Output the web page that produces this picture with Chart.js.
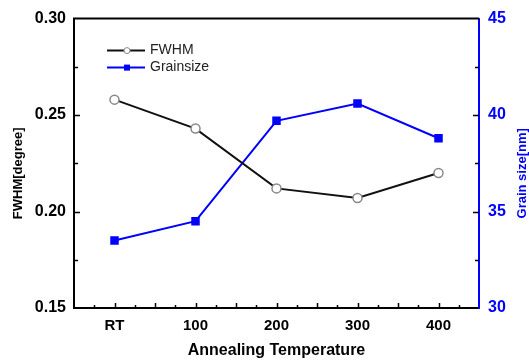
<!DOCTYPE html>
<html>
<head>
<meta charset="utf-8">
<script src="https://cdn.jsdelivr.net/npm/chart.js@4"></script>
<style>
  html, body { margin: 0; padding: 0; background: #fff; }
  #wrap { width: 529px; height: 362px; }
</style>
</head>
<body>
<div id="wrap"><canvas id="fwhmChart"></canvas></div>
<script>
// dane
const categories = ['RT', '100', '200', '300', '400'];
const tempValues = [0, 100, 200, 300, 400];
const fwhmValues = [0.258, 0.243, 0.212, 0.207, 0.220];
const grainValues = [33.5, 34.5, 39.7, 40.6, 38.8];

const BLUE = '#0000ff';
const FONT = 'Liberation Sans, Arial, sans-serif';

// ticki do wewnatrz, gorna ramka, tytuly osi Y i legenda
const decorPlugin = {
    id: 'decor',
    afterDraw(chart) {
        const { ctx, chartArea: a, scales } = chart;
        ctx.save();
        ctx.lineWidth = 1.5;
        ctx.strokeStyle = '#000';

        // os X: glowne co 50, pomocnicze co 25
        const x = scales.x;
        for (let v = x.min; v <= x.max; v += 25) {
            if (v === x.min || v === x.max) continue;
            const px = Math.round(x.getPixelForValue(v)) + 0.5;
            const len = v % 50 === 0 ? 5 : 3;
            ctx.beginPath();
            ctx.moveTo(px, a.bottom);
            ctx.lineTo(px, a.bottom - len);
            ctx.stroke();
        }

        // lewa i prawa os Y
        const yL = scales.y, yR = scales.y1;
        for (let i = 1; i < 6; i++) {
            const vL = yL.min + i * 0.025;
            const pL = Math.round(yL.getPixelForValue(vL)) + 0.5;
            ctx.beginPath();
            ctx.moveTo(a.left, pL);
            ctx.lineTo(a.left + (i % 2 === 0 ? 6 : 4), pL);
            ctx.stroke();

            const vR = yR.min + i * 2.5;
            const pR = Math.round(yR.getPixelForValue(vR)) + 0.5;
            ctx.beginPath();
            ctx.moveTo(a.right, pR);
            ctx.lineTo(a.right - (i % 2 === 0 ? 6 : 4), pR);
            ctx.stroke();
        }

        // gorna ramka
        ctx.lineWidth = 2;
        ctx.beginPath();
        ctx.moveTo(a.left - 1, a.top);
        ctx.lineTo(a.right, a.top);
        ctx.stroke();

        // tytuly osi Y (oba czytane od dolu)
        ctx.font = 'bold 13px ' + FONT;
        ctx.textAlign = 'center';
        ctx.textBaseline = 'middle';
        const midY = (a.top + a.bottom) / 2 + 10;
        ctx.fillStyle = '#000';
        ctx.save();
        ctx.translate(18, midY);
        ctx.rotate(-Math.PI / 2);
        ctx.fillText('FWHM[degree]', 0, 0);
        ctx.restore();
        ctx.fillStyle = BLUE;
        ctx.save();
        ctx.translate(522, midY);
        ctx.rotate(-Math.PI / 2);
        ctx.fillText('Grain size[nm]', 0, 0);
        ctx.restore();

        // legenda: linia + znacznik + tekst
        ctx.font = '14px ' + FONT;
        ctx.textAlign = 'left';
        chart.data.datasets.forEach((ds, i) => {
            const ly = a.top + 32 + i * 17;
            const lx = a.left + 33;
            ctx.strokeStyle = ds.borderColor;
            ctx.lineWidth = 2;
            ctx.beginPath();
            ctx.moveTo(lx, ly);
            ctx.lineTo(lx + 38, ly);
            ctx.stroke();
            ctx.fillStyle = ds.pointBackgroundColor;
            ctx.strokeStyle = ds.pointBorderColor;
            ctx.lineWidth = 1;
            const cx = lx + 20;
            if (ds.pointStyle === 'rect') {
                ctx.fillRect(cx - 3, ly - 3, 6, 6);
            } else {
                ctx.beginPath();
                ctx.arc(cx, ly, 3, 0, Math.PI * 2);
                ctx.fill();
                ctx.stroke();
            }
            ctx.fillStyle = '#222';
            ctx.fillText(ds.label, lx + 43, ly);
        });
        ctx.restore();
    }
};

const ctx = document.getElementById('fwhmChart').getContext('2d');
new Chart(ctx, {
    type: 'line',
    data: {
        datasets: [
            {
                label: 'FWHM',
                data: tempValues.map((t, i) => ({ x: t, y: fwhmValues[i] })),
                yAxisID: 'y',
                borderColor: '#111',
                borderWidth: 2,
                pointStyle: 'circle',
                pointRadius: 4.5,
                pointBorderWidth: 1.5,
                pointBorderColor: '#888',
                pointBackgroundColor: '#fff',
                tension: 0
            },
            {
                label: 'Grainsize',
                data: tempValues.map((t, i) => ({ x: t, y: grainValues[i] })),
                yAxisID: 'y1',
                borderColor: BLUE,
                borderWidth: 2,
                pointStyle: 'rect',
                pointRadius: 6,
                pointBorderWidth: 0,
                pointBorderColor: BLUE,
                pointBackgroundColor: BLUE,
                tension: 0
            }
        ]
    },
    options: {
        responsive: true,
        maintainAspectRatio: false,
        animation: false,
        events: [],
        layout: { padding: { top: 18, left: 0, right: 0, bottom: 0 } },
        plugins: {
            legend: { display: false },
            title: { display: false },
            tooltip: { enabled: false }
        },
        scales: {
            x: {
                type: 'linear',
                min: -50,
                max: 450,
                afterBuildTicks: (scale) => {
                    scale.ticks = tempValues.map(v => ({ value: v }));
                },
                afterFit: (scale) => { scale.height = 54; },
                grid: { display: false, drawTicks: false },
                border: { display: true, color: '#000', width: 2 },
                ticks: {
                    autoSkip: false,
                    maxRotation: 0,
                    padding: 9,
                    color: '#000',
                    font: { family: FONT, size: 15, weight: 'bold' },
                    callback: (value) => {
                        const i = tempValues.indexOf(value);
                        return i >= 0 ? categories[i] : '';
                    }
                },
                title: {
                    display: true,
                    text: 'Annealing Temperature',
                    color: '#000',
                    font: { family: FONT, size: 16, weight: 'bold' },
                    padding: { top: 2, bottom: 2 }
                }
            },
            y: {
                position: 'left',
                min: 0.15,
                max: 0.30,
                afterFit: (scale) => { scale.width = 74; },
                grid: { display: false, drawTicks: false },
                border: { display: true, color: '#000', width: 2 },
                ticks: {
                    stepSize: 0.05,
                    padding: 8,
                    color: '#000',
                    font: { family: FONT, size: 16, weight: 'bold' },
                    callback: (value) => value.toFixed(2)
                }
            },
            y1: {
                position: 'right',
                min: 30,
                max: 45,
                afterFit: (scale) => { scale.width = 50; },
                grid: { display: false, drawTicks: false },
                border: { display: true, color: BLUE, width: 2 },
                ticks: {
                    stepSize: 5,
                    padding: 9,
                    color: BLUE,
                    font: { family: FONT, size: 16, weight: 'bold' }
                }
            }
        }
    },
    plugins: [decorPlugin]
});
</script>
</body>
</html>
